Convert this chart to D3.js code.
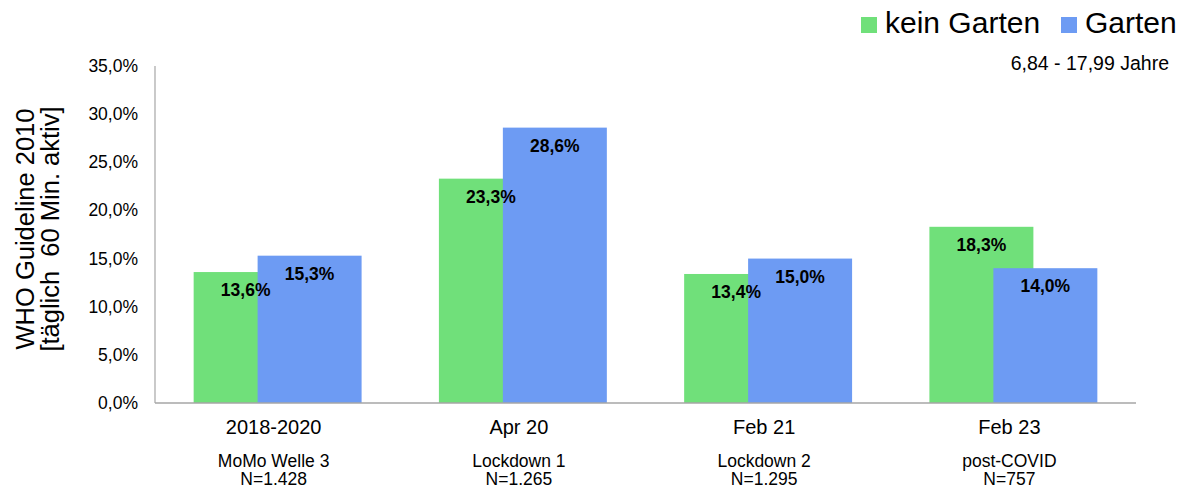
<!DOCTYPE html>
<html>
<head>
<meta charset="utf-8">
<script src="https://cdn.jsdelivr.net/npm/d3@7"></script>
<style>
  body { margin: 0; background: #fff; }
  svg { display: block; font-family: "Liberation Sans", Arial, sans-serif; }
</style>
</head>
<body>
<svg id="chart" width="1185" height="488"></svg>
<script>
const categories = ["2018-2020", "Apr 20", "Feb 21", "Feb 23"];
const subLabels = ["MoMo Welle 3", "Lockdown 1", "Lockdown 2", "post-COVID"];
const nLabels = ["N=1.428", "N=1.265", "N=1.295", "N=757"];
const seriesNames = ["kein Garten", "Garten"];
const keinGarten = [13.6, 23.3, 13.4, 18.3];
const garten = [15.3, 28.6, 15.0, 14.0];
const yTicks = [0, 5, 10, 15, 20, 25, 30, 35];

const COLORS = ["#70e07a", "#6d9bf3"];
const AXIS_COLOR = "#a6a6a6";

const svg = d3.select('#chart');

const plotLeft = 155, plotRight = 1136, plotTop = 66, plotBottom = 403;

const x = d3.scaleBand()
  .domain(categories)
  .range([plotLeft, plotRight]);

const y = d3.scaleLinear()
  .domain([0, 35])
  .range([plotBottom, plotTop]);

const barW = x.bandwidth() * 0.424;
const shift = barW * 0.615;

const fmt = v => v.toFixed(1).replace('.', ',') + '%';

// y tick labels
svg.append('g')
  .selectAll('text')
  .data(yTicks)
  .enter()
  .append('text')
  .attr('x', 138)
  .attr('y', d => y(d) + 6)
  .attr('text-anchor', 'end')
  .style('font-size', '17.5px')
  .attr('fill', '#000')
  .text(d => fmt(d));

// bars
const series = [keinGarten, garten];
series.forEach((vals, s) => {
  const offset = s === 0 ? -shift / 2 : shift / 2;

  svg.append('g')
    .selectAll('rect')
    .data(vals)
    .enter()
    .append('rect')
    .attr('x', (d, i) => x(categories[i]) + x.bandwidth() / 2 + offset - barW / 2)
    .attr('y', d => y(d))
    .attr('width', barW)
    .attr('height', d => plotBottom - y(d))
    .attr('fill', COLORS[s]);
});

// value labels on top of everything
series.forEach((vals, s) => {
  const offset = s === 0 ? -shift / 2 : shift / 2;
  svg.append('g')
    .selectAll('text')
    .data(vals)
    .enter()
    .append('text')
    .attr('x', (d, i) => x(categories[i]) + x.bandwidth() / 2 + offset)
    .attr('y', d => y(d) + 24)
    .attr('text-anchor', 'middle')
    .style('font-size', '17.5px')
    .style('font-weight', 'bold')
    .attr('fill', '#000')
    .text(d => fmt(d));
});

// axes lines
svg.append('line')
  .attr('x1', plotLeft).attr('x2', plotLeft)
  .attr('y1', plotTop).attr('y2', plotBottom)
  .attr('stroke', AXIS_COLOR).attr('stroke-width', 1.2);

svg.append('line')
  .attr('x1', plotLeft).attr('x2', plotRight)
  .attr('y1', plotBottom).attr('y2', plotBottom)
  .attr('stroke', AXIS_COLOR).attr('stroke-width', 1.5);

// category labels
const xl = svg.append('g');
categories.forEach((c, i) => {
  const cx = x(c) + x.bandwidth() / 2 - 4;
  xl.append('text')
    .attr('x', cx).attr('y', 434)
    .attr('text-anchor', 'middle')
    .style('font-size', '20px')
    .text(c);
  xl.append('text')
    .attr('x', cx).attr('y', 467)
    .attr('text-anchor', 'middle')
    .style('font-size', '17.5px')
    .text(subLabels[i]);
  xl.append('text')
    .attr('x', cx).attr('y', 485)
    .attr('text-anchor', 'middle')
    .style('font-size', '17.5px')
    .text(nLabels[i]);
});

// y title
const yt = svg.append('text')
  .attr('transform', 'translate(0,229) rotate(-90)')
  .attr('text-anchor', 'middle')
  .style('font-size', '25.5px');
yt.append('tspan').attr('x', 0).attr('y', 34).text('WHO Guideline 2010');
yt.append('tspan').attr('x', 0).attr('y', 59).text('[täglich\u00a0 60 Min. aktiv]');

// legend
const legendX = [861, 1061];
seriesNames.forEach((name, i) => {
  svg.append('rect')
    .attr('x', legendX[i]).attr('y', 17)
    .attr('width', 16).attr('height', 16)
    .attr('fill', COLORS[i]);
  svg.append('text')
    .attr('x', legendX[i] + 24).attr('y', 33)
    .style('font-size', '30px')
    .text(name);
});

svg.append('text')
  .attr('x', 1169).attr('y', 70)
  .attr('text-anchor', 'end')
  .style('font-size', '19.5px')
  .text('6,84 - 17,99 Jahre');
</script>
</body>
</html>
